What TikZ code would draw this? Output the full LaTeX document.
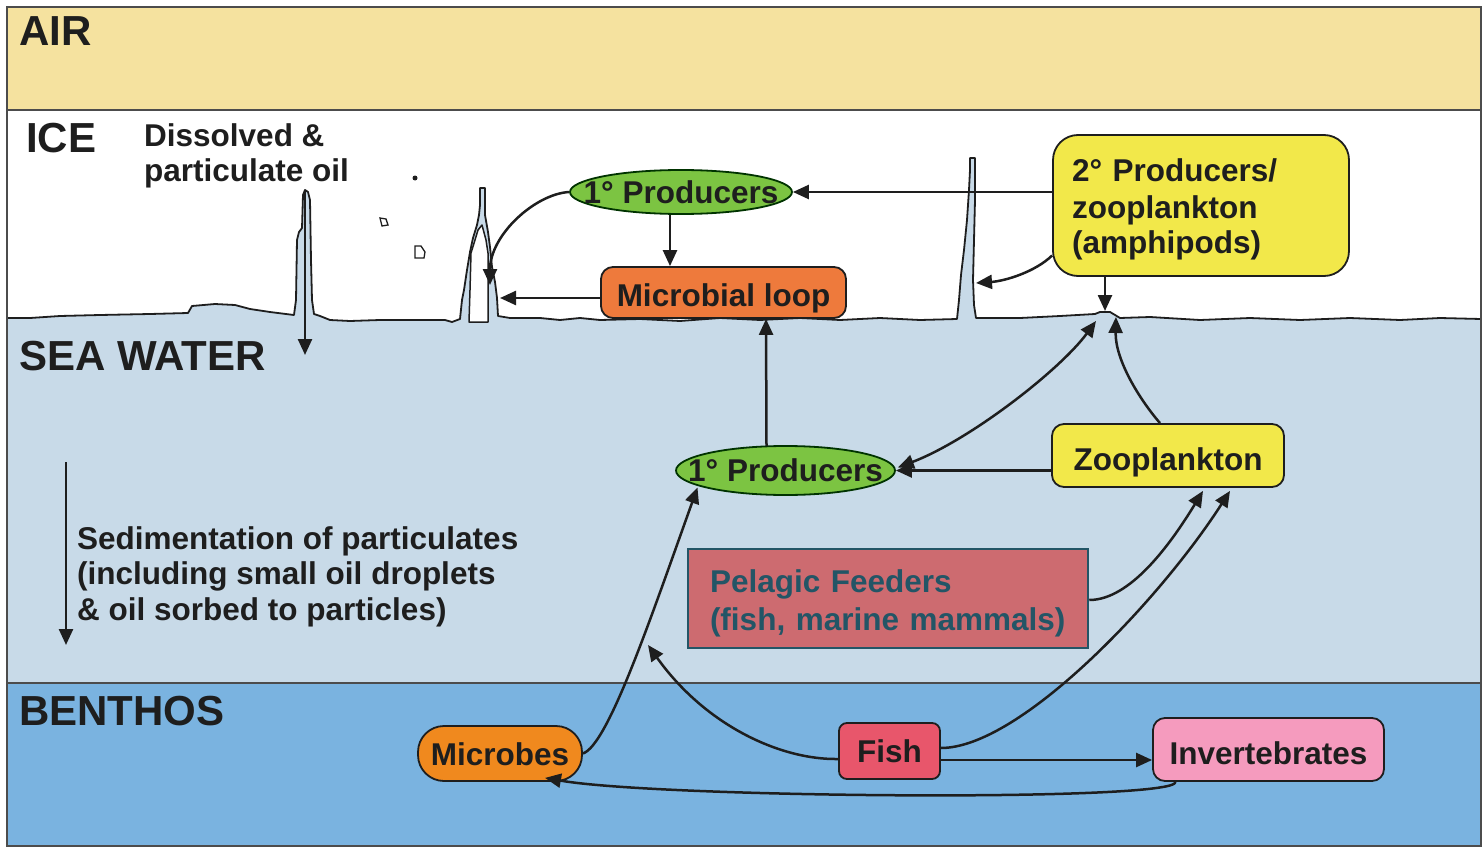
\documentclass[tikz,border=0pt]{standalone}
\usepackage{fontspec}
\setmainfont{Liberation Sans}
\usetikzlibrary{arrows.meta,shapes.geometric,calc}
\definecolor{airc}{HTML}{F5E29F}
\definecolor{seac}{HTML}{C8DAE8}
\definecolor{benc}{HTML}{7AB3E0}
\definecolor{greenc}{HTML}{7CC442}
\definecolor{loopc}{HTML}{EE7A3C}
\definecolor{yellowc}{HTML}{F2E84A}
\definecolor{micc}{HTML}{F0891E}
\definecolor{fishc}{HTML}{E8566B}
\definecolor{invc}{HTML}{F59BBE}
\definecolor{pelc}{HTML}{CD6B70}
\definecolor{tealc}{HTML}{235566}
\definecolor{inkc}{HTML}{1E1E1E}
\tikzset{
  arr/.style={line width=2.5pt, draw=inkc, -{Triangle[length=16pt,width=14pt]}},
  arrboth/.style={line width=2.5pt, draw=inkc, {Triangle[length=16pt,width=14pt]}-{Triangle[length=16pt,width=14pt]}},
  lbl/.style={font=\fontsize{42}{46}\selectfont\bfseries, text=inkc, inner sep=0, anchor=base west},
  txt/.style={font=\fontsize{31.5}{35.5}\selectfont\bfseries, text=inkc, inner sep=0, align=left, anchor=north west},
  box/.style={draw=inkc, line width=1.8pt, font=\fontsize{31.5}{36}\selectfont\bfseries, text=inkc, inner sep=0, text depth=0pt},
  prod/.style={box, ellipse, fill=greenc, draw=black!80!green},
  icel/.style={line width=1.8pt, draw=inkc, line join=round},
  frame/.style={line width=2pt, draw=black!70},
}
\def\icepath{(7,318) -- (30,318) -- (60,316) -- (100,315) -- (150,314) -- (188,313) -- (192,306) -- (215,304) -- (235,305) -- (250,309) -- (270,312) -- (294,315)
 -- (296,300) -- (297,240) -- (299,232) -- (302,228) -- (303,195) -- (305,190) -- (308,192) -- (310,200) -- (311,260) -- (312,300) -- (314,314) -- (320,316) -- (330,320) -- (350,321) -- (380,320) -- (420,320) -- (445,320) -- (452,322) -- (460,319)
 -- (462,300) -- (464,290) -- (467,270) -- (470,252) -- (473,238) -- (477,225) -- (479,215) -- (480,205) -- (480,188) -- (485,188) -- (485,215) -- (488,232) -- (490,247) -- (492,267) -- (495,282) -- (497,298) -- (498,316) -- (510,318) -- (540,318) -- (560,320) -- (580,318) -- (600,320)
 -- (640,319) -- (680,321) -- (720,318) -- (760,320) -- (800,318) -- (840,320) -- (880,318) -- (920,320) -- (957,319)
 -- (959,300) -- (961,275) -- (964,250) -- (967,220) -- (969,190) -- (970,170) -- (970,158) -- (975,158) -- (975,200) -- (974,240) -- (973,280) -- (974,305) -- (976,318) -- (1020,318) -- (1060,316) -- (1095,314) -- (1100,312) -- (1110,312) -- (1120,318) -- (1150,317) -- (1200,320) -- (1250,318) -- (1300,320) -- (1350,318) -- (1400,320) -- (1440,318) -- (1481,319)}
\begin{document}
\begin{tikzpicture}[x=1pt,y=-1pt]
\useasboundingbox (0,0) rectangle (1483,848);
% bands
\fill[airc] (7,7) rectangle (1481,110);
\fill[white] (7,110) rectangle (1481,330);
\fill[seac] \icepath -- (1481,683) -- (7,683) -- cycle;
\fill[benc] (7,683) rectangle (1481,846);
\draw[icel] \icepath;
% inner pocket of the middle ice spike
\draw[icel, fill=white, line width=1.5pt] (469,322) -- (470,290) -- (471,253) -- (475,240) -- (478,230) -- (482,225) -- (486,240) -- (488,253) -- (488,290) -- (488,322) -- cycle;
\draw[frame] (7,7) rectangle (1481,846);
\draw[frame] (7,110) -- (1481,110);
\draw[frame] (7,683) -- (1481,683);
% particles
\fill[inkc] (415,178) circle (2.5);
\draw[inkc, line width=1.3pt] (380,218) -- (386,219) -- (388,225) -- (382,226) -- cycle;
\draw[inkc, line width=1.3pt] (415,246) -- (421,246) -- (425,252) -- (424,258) -- (415,258) -- cycle;
% region labels
\node[lbl] (air) at (19,46) {AIR};
\node[lbl] (ice) at (26,153) {ICE};
\node[lbl] (sea) at (19,370) {SEA WATER};
\node[lbl] (ben) at (19,725) {BENTHOS};
\node[txt] (oil) at (144,123) {Dissolved \&\\particulate oil};
\node[txt] (sed) at (77,526) {Sedimentation of particulates\\(including small oil droplets\\\& oil sorbed to particles)};
% free ends
\coordinate (oilt) at (305,190);
\coordinate (oilb) at (305,355);
\coordinate (sedt) at (66,462);
\coordinate (sedb) at (66,645);
\coordinate (ch1) at (500,298);
\coordinate (ch1b) at (490,285);
\coordinate (ch3) at (976,283);
\coordinate (s1) at (1105,311);
\coordinate (s2) at (1096,321);
\coordinate (s3) at (1116,317);
\coordinate (pu) at (648,645);
% nodes
\node[prod, minimum width=222pt, minimum height=44pt, text height=22pt] (top1) at (681,192) {\makebox[0pt]{1° Producers}};
\node[box, fill=loopc, minimum width=245pt, minimum height=51pt, rounded corners=12pt, text height=27pt] (loop) at (723.5,292.5) {Microbial loop};
\node[box, fill=yellowc, minimum width=296pt, minimum height=141pt, rounded corners=25pt, text width=258pt, align=left, text height=23pt, text depth=70pt] (two) at (1201,205.5) {2° Producers/\\zooplankton\\(amphipods)};
\node[prod, minimum width=219pt, minimum height=49pt, text height=21pt] (mid1) at (785.5,470.5) {\makebox[0pt]{1° Producers}};
\node[box, fill=yellowc, minimum width=232pt, minimum height=63pt, rounded corners=12pt, text height=29pt] (zoo) at (1168,455.5) {Zooplankton};
\node[box, fill=pelc, draw=tealc, line width=2.5pt, text=tealc, minimum width=400pt, minimum height=99pt, text width=356pt, align=left, text height=23pt, text depth=36pt, font=\fontsize{31.5}{38}\selectfont\bfseries] (pel) at (888,598.5) {Pelagic Feeders\\(fish, marine mammals)};
\node[box, fill=micc, minimum width=164pt, minimum height=55pt, rounded corners=26pt, text height=23pt] (mic) at (500,753.5) {Microbes};
\node[box, fill=fishc, minimum width=101pt, minimum height=56pt, rounded corners=8pt, text height=22pt] (fish) at (889.5,751) {Fish};
\node[box, fill=invc, minimum width=231pt, minimum height=63pt, rounded corners=12pt, text height=29pt] (inv) at (1268.5,749.5) {Invertebrates};
% connectors
\draw[arr] (oilt) -- (oilb);
\draw[arr] (sedt) -- (sedb);
\draw[arr] (two.west |- top1.east) -- (top1.east);
\draw[arr] ($(top1.south)+(-11,0)$) -- ($(loop.north)+(-53.5,0)$);
\draw[arr] (loop.west |- ch1) -- (ch1);
\draw[arr] (top1.west) .. controls (535,194) and (490,235) .. (ch1b);
\draw[arr] ($(two.west)+(0,50)$) .. controls (1035,272) and (1005,281) .. (ch3);
\draw[arr] ($(two.south)+(-96,0)$) -- (s1);
\draw[arr] ($(mid1.north)+(-19,1)$) -- ($(loop.south)+(42.5,0)$);
\draw[arr] (zoo.west |- mid1.east) -- (mid1.east);
\draw[arrboth] ($(mid1.east)+(2,-3)$) .. controls (970,440) and (1060,370) .. (s2);
\draw[arr] ($(zoo.north)+(-8,0)$) .. controls (1140,400) and (1115,360) .. (s3);
\draw[arr] ($(pel.east)+(0,1.5)$) .. controls (1130,600) and (1170,545) .. ($(zoo.south)+(35,3)$);
\draw[arr] ($(fish.east)+(0,-3)$) .. controls (1020,748) and (1160,600) .. ($(zoo.south)+(62,3)$);
\draw[arr] (mic.east) .. controls (608,745) and (650,620) .. ($(mid1.center)+(-88,17)$);
\draw[arr] ($(fish.west)+(0,8)$) .. controls (780,760) and (705,725) .. (pu);
\draw[arr] ($(fish.east)+(0,9)$) -- ($(inv.west)+(0,10.5)$);
\draw[arr] ($(inv.south)+(-93,0)$) .. controls (1178,802) and (660,798) .. ($(mic.south)+(45,-4)$);
\end{tikzpicture}
\end{document}
